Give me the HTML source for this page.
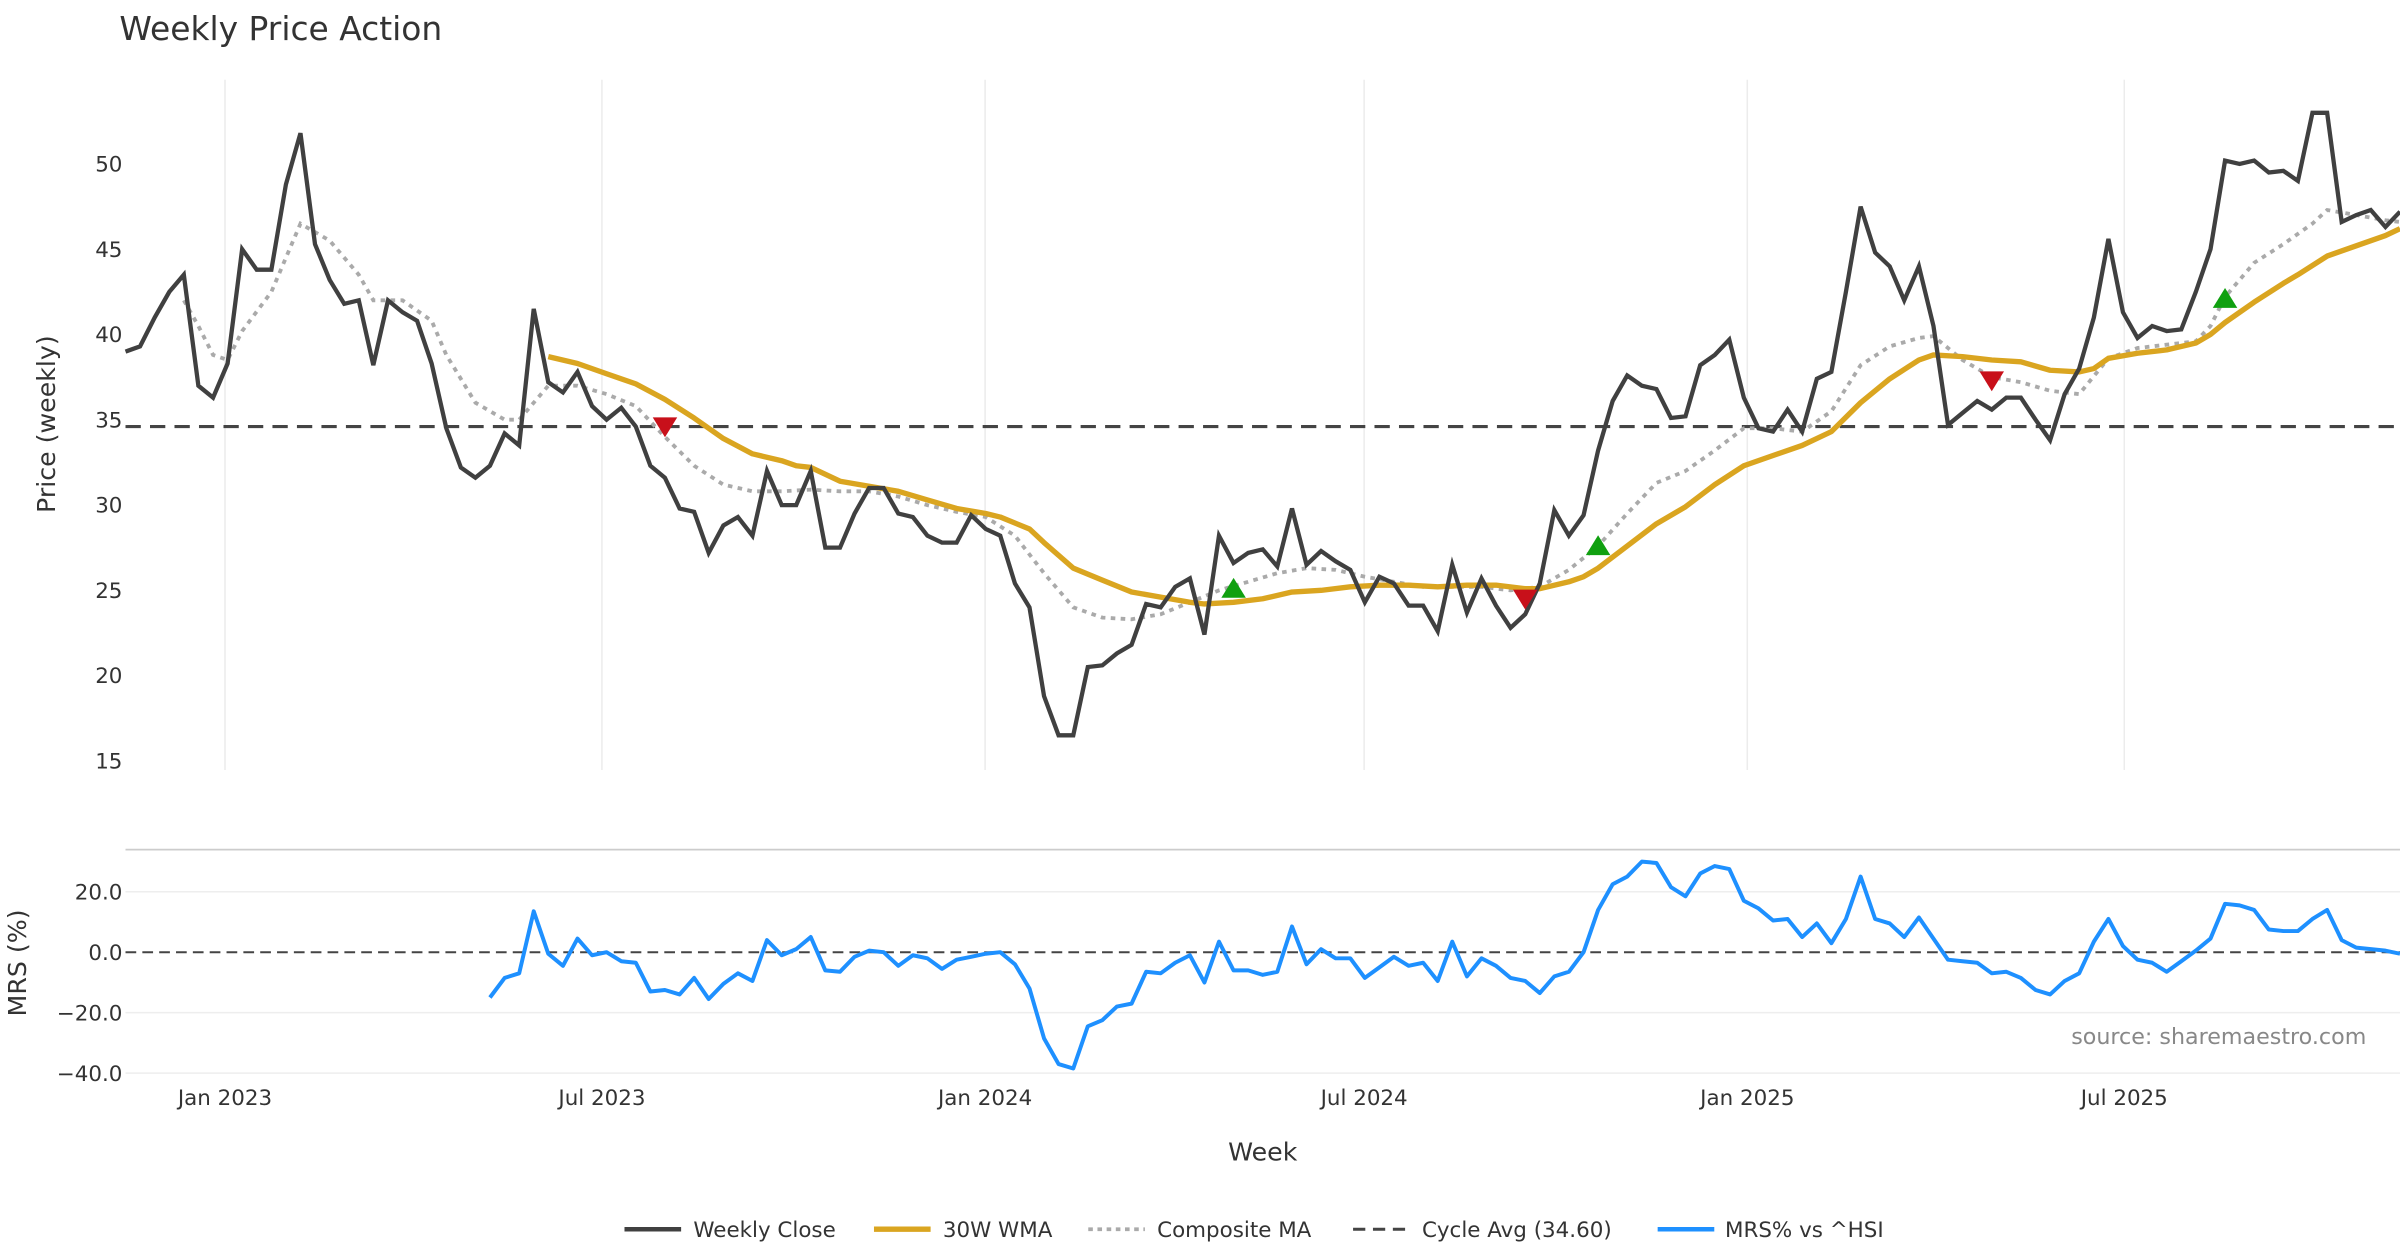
<!DOCTYPE html>
<html><head><meta charset="utf-8"><style>
html,body{margin:0;padding:0;background:#fff}
svg{display:block;font-family:"DejaVu Sans","Liberation Sans",sans-serif}
</style></head><body>
<svg id="chart" width="2400" height="1260" viewBox="0 0 1568 823" xmlns="http://www.w3.org/2000/svg">
<text x="78" y="26" font-size="21.5" fill="#333">Weekly Price Action</text>
<g id="gtop"></g><g id="gbot"></g>
<text transform="translate(36,277) rotate(-90)" text-anchor="middle" font-size="16.5" fill="#333">Price (weekly)</text>
<text transform="translate(17,629) rotate(-90)" text-anchor="middle" font-size="16.5" fill="#333">MRS (%)</text>
<text x="825" y="758" text-anchor="middle" font-size="16.5" fill="#333">Week</text>
<text x="1546" y="682" text-anchor="end" font-size="14.5" fill="#888">source: sharemaestro.com</text>
<g font-size="14" fill="#333">
<g><line x1="408" y1="803" x2="445" y2="803" stroke="#404040" stroke-width="3"/><text x="453" y="808">Weekly Close</text></g>
<g><line x1="571" y1="803" x2="608" y2="803" stroke="#DAA520" stroke-width="3.5"/><text x="616" y="808">30W WMA</text></g>
<g><line x1="711" y1="803" x2="748" y2="803" stroke="#aaa" stroke-width="2.5" stroke-dasharray="3,3"/><text x="756" y="808">Composite MA</text></g>
<g><line x1="884" y1="803" x2="920" y2="803" stroke="#444" stroke-width="2" stroke-dasharray="8,5"/><text x="929" y="808">Cycle Avg (34.60)</text></g>
<g><line x1="1083" y1="803" x2="1120" y2="803" stroke="#1E90FF" stroke-width="3"/><text x="1127" y="808">MRS% vs ^HSI</text></g>
</g>
</svg>
<script>
const closeVals=[39,39.3,41,42.5,43.5,37,36.3,38.3,45,43.8,43.8,48.8,51.8,45.3,43.2,41.8,42,38.2,42,41.3,40.8,38.3,34.5,32.2,31.6,32.3,34.2,33.5,41.5,37.2,36.6,37.8,35.8,35,35.7,34.6,32.3,31.6,29.8,29.6,27.2,28.8,29.3,28.2,32,30,30,32,27.5,27.5,29.5,31,31,29.5,29.3,28.2,27.8,27.8,29.4,28.6,28.2,25.4,24,18.8,16.5,16.5,20.5,20.6,21.3,21.8,24.2,24,25.2,25.7,22.4,28.2,26.6,27.2,27.4,26.4,29.8,26.5,27.3,26.7,26.2,24.3,25.8,25.4,24.1,24.1,22.6,26.5,23.7,25.7,24.1,22.8,23.6,25.4,29.7,28.2,29.4,33.2,36.1,37.6,37,36.8,35.1,35.2,38.2,38.8,39.7,36.3,34.5,34.3,35.6,34.3,37.4,37.8,42.5,47.5,44.8,44,42,44,40.5,34.7,35.4,36.1,35.6,36.3,36.3,35,33.8,36.5,38,41,45.6,41.3,39.8,40.5,40.2,40.3,42.5,45,50.2,50,50.2,49.5,49.6,49,53,53,46.6,47,47.3,46.3,47.2];
const wmaWeeks=[29,31,33,35,37,39,41,43,45,46,47,49,51,53,55,57,59,60,62,63,65,67,69,71,73,74,76,78,80,82,84,86,88,90,92,94,96,97,99,100,101,103,105,107,109,111,113,115,117,119,121,123,124,126,128,130,132,134,135,136,138,140,142,143,144,146,148,149,151,153,155,156];
const wmaVals=[38.7,38.3,37.7,37.1,36.2,35.1,33.9,33.0,32.6,32.3,32.2,31.4,31.1,30.8,30.3,29.8,29.5,29.3,28.6,27.8,26.3,25.6,24.9,24.6,24.3,24.2,24.3,24.5,24.9,25.0,25.2,25.3,25.3,25.2,25.3,25.3,25.1,25.1,25.5,25.8,26.3,27.6,28.9,29.9,31.2,32.3,32.9,33.5,34.3,36.0,37.4,38.5,38.8,38.7,38.5,38.4,37.9,37.8,38.0,38.6,38.9,39.1,39.5,40.0,40.7,41.9,43.0,43.5,44.6,45.2,45.8,46.2];
const compWeeks=[4,5,6,7,8,10,11,12,14,16,17,19,21,22,24,26,27,29,31,33,35,37,39,41,43,45,47,49,51,53,55,57,59,61,63,65,67,69,71,73,75,77,79,81,83,85,87,89,91,93,95,97,99,101,103,105,107,109,111,113,115,117,119,121,123,124,126,128,130,132,134,136,138,140,142,143,144,146,148,150,151,153,155,156];
const compVals=[42,40.5,38.8,38.5,40.2,42.5,44.5,46.5,45.5,43.5,42,42,40.8,38.8,36,35,35,37,37,36.5,35.8,34,32.3,31.2,30.8,30.8,30.9,30.8,30.8,30.5,30,29.6,29.3,28.2,26,24,23.4,23.3,23.6,24.3,25,25.5,26,26.3,26.2,25.8,25.5,25.2,25.2,25.2,25,25.2,26.2,27.6,29.5,31.3,32,33.2,34.5,34.5,34.3,35.5,38.2,39.3,39.8,39.9,38.5,37.5,37.2,36.7,36.5,38.6,39.2,39.4,39.6,40.5,42.2,44.2,45.3,46.5,47.3,47,46.7,46.6];
const cycleAvg=34.6;
const sellWeeks=[37,96,128];
const sellVals=[34.6,24.5,37.3];
const buyWeeks=[76,101,144];
const buyVals=[25.1,27.6,42.1];
const mrsStart=25;
const mrsVals=[-15,-8.5,-7,13.5,-0.5,-4.5,4.5,-1,0,-3,-3.5,-13,-12.5,-14,-8.5,-15.5,-10.5,-7,-9.5,4,-1,1,5,-6,-6.5,-1.5,0.5,0,-4.5,-1,-2,-5.5,-2.5,-1.5,-0.5,0,-4,-12,-28.5,-37,-38.5,-24.5,-22.5,-18,-17,-6.5,-7,-3.5,-1,-10,3.5,-6,-6,-7.5,-6.5,8.5,-4,1,-2,-2,-8.5,-5,-1.5,-4.5,-3.5,-9.5,3.5,-8,-2,-4.5,-8.5,-9.5,-13.5,-8,-6.5,0,14,22.5,25,30,29.5,21.5,18.5,26,28.5,27.5,17,14.5,10.5,11,5,9.5,3,11,25,11,9.5,5,11.5,4.5,-2.5,-3,-3.5,-7,-6.5,-8.5,-12.5,-14,-9.5,-7,3.5,11,2,-2.5,-3.5,-6.5,-3,0.5,4.5,16,15.5,14,7.5,7,7,11,14,4,1.5,1,0.5,-0.5];
const priceTicks=[15,20,25,30,35,40,45,50];
const mrsTicks=[20,0,-20,-40];
const mrsTickLabels=["20.0","0.0","\u221220.0","\u221240.0"];
const xTickDates=["2023-01-01","2023-07-01","2024-01-01","2024-07-01","2025-01-01","2025-07-01"];
const xTickLabels=["Jan 2023","Jul 2023","Jan 2024","Jul 2024","Jan 2025","Jul 2025"];
const tickAnchorDate="2023-01-01";

const NS="http://www.w3.org/2000/svg";
const X0=82,X1=1568,NW=156;
const xs=i=>X0+i*(X1-X0)/NW;
const xd=d=>147+(new Date(d)-new Date(tickAnchorDate))/(7*86400000)*9.524;
const yp=v=>107+(50-v)*(390/35);
const ym=v=>622-v*(39.5/20);
const gTop=document.getElementById('gtop'),gBot=document.getElementById('gbot');
function mk(tag,attrs,parent){const e=document.createElementNS(NS,tag);for(const k in attrs)e.setAttribute(k,attrs[k]);parent.appendChild(e);return e;}
xTickDates.forEach((d,k)=>{
  const x=xd(d);
  const g=mk('line',{x1:x,x2:x,y1:52,y2:503,stroke:'#ececec','stroke-width':1},gTop);
  
  
  const t=mk('text',{x:x,y:722,'text-anchor':'middle','font-size':14,fill:'#333'},gBot);
  t.textContent=xTickLabels[k];
  
  
});
priceTicks.forEach(v=>{
  const t=mk('text',{x:80,y:yp(v)+5,'text-anchor':'end','font-size':14,fill:'#333'},gTop);
  t.textContent=v;
  
  
});
mrsTicks.forEach((v,k)=>{
  if(v!==0){const g=mk('line',{x1:X0,x2:X1,y1:ym(v),y2:ym(v),stroke:'#eee','stroke-width':1},gBot);
  
  }
  const t=mk('text',{x:80,y:ym(v)+5,'text-anchor':'end','font-size':14,fill:'#333'},gBot);
  t.textContent=mrsTickLabels[k];
  
  
});
const sep=mk('line',{x1:X0,x2:X1,y1:555,y2:555,stroke:'#ccc','stroke-width':1.2},gBot);


const z=mk('line',{x1:X0,x2:X1,y1:ym(0),y2:ym(0),stroke:'#444','stroke-width':1.3,'stroke-dasharray':'7,4'},gBot);


const ca=mk('line',{x1:X0,x2:X1,y1:yp(cycleAvg),y2:yp(cycleAvg),stroke:'#444','stroke-width':2,'stroke-dasharray':'10,6'},gTop);


function pathFrom(ws,vs,yf){return ws.map((w,i)=>(i?'L':'M')+xs(w).toFixed(1)+','+yf(vs[i]).toFixed(1)).join('');}
const comp=mk('path',{d:pathFrom(compWeeks,compVals,yp),fill:'none',stroke:'#aaa','stroke-width':2.5,'stroke-dasharray':'3,3.5'},gTop);


const wma=mk('path',{d:pathFrom(wmaWeeks,wmaVals,yp),fill:'none',stroke:'#DAA520','stroke-width':3.5,'stroke-linejoin':'round'},gTop);


const cw=closeVals.map((v,i)=>i);
const cl=mk('path',{d:pathFrom(cw,closeVals,yp),fill:'none',stroke:'#404040','stroke-width':2.8,'stroke-linejoin':'miter'},gTop);


sellWeeks.forEach((w,i)=>{const x=xs(w),y=yp(sellVals[i]);
  const p=mk('path',{d:`M${x-8},${y-6}L${x+8},${y-6}L${x},${y+7}Z`,fill:'#C8101A'},gTop);
  
  });
buyWeeks.forEach((w,i)=>{const x=xs(w),y=yp(buyVals[i]);
  const p=mk('path',{d:`M${x-8},${y+6}L${x+8},${y+6}L${x},${y-7}Z`,fill:'#10A010'},gTop);
  
  });
const mw=mrsVals.map((v,i)=>mrsStart+i);
const mrs=mk('path',{d:pathFrom(mw,mrsVals,ym),fill:'none',stroke:'#1E90FF','stroke-width':2.6,'stroke-linejoin':'round'},gBot);


</script>
</body></html>
